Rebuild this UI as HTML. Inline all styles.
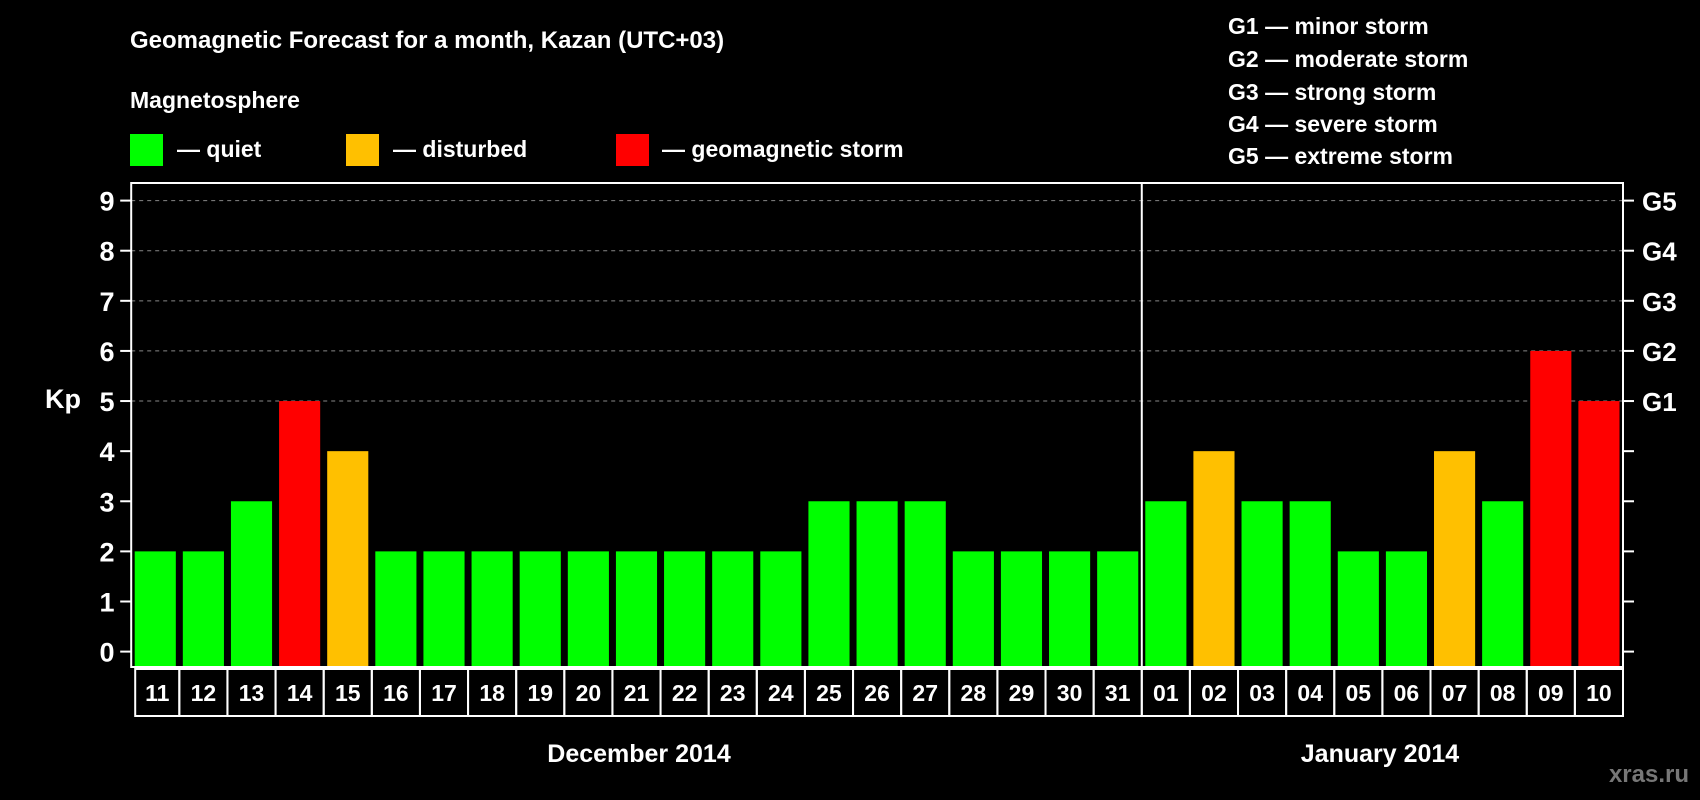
<!DOCTYPE html>
<html><head><meta charset="utf-8"><style>
html,body{margin:0;padding:0;background:#000;}
svg{display:block;font-family:"Liberation Sans",Arial,sans-serif;font-weight:bold;}
</style></head><body>
<svg id="chart" width="1700" height="800" viewBox="0 0 1700 800">
<rect width="1700" height="800" fill="#000"/>
<text x="130" y="48" fill="#fff" font-size="24">Geomagnetic Forecast for a month, Kazan (UTC+03)</text>
<text x="130" y="108" fill="#fff" font-size="23">Magnetosphere</text>
<g><rect x="130" y="134" width="33" height="32" fill="#00ff00"/><text x="177" y="157" fill="#fff" font-size="23">— quiet</text></g>
<g><rect x="346" y="134" width="33" height="32" fill="#ffc000"/><text x="393" y="157" fill="#fff" font-size="23">— disturbed</text></g>
<g><rect x="616" y="134" width="33" height="32" fill="#ff0000"/><text x="662" y="157" fill="#fff" font-size="23">— geomagnetic storm</text></g>
<g fill="#fff" font-size="23">
<text x="1228" y="34">G1 — minor storm</text>
<text x="1228" y="67">G2 — moderate storm</text>
<text x="1228" y="100">G3 — strong storm</text>
<text x="1228" y="132">G4 — severe storm</text>
<text x="1228" y="164">G5 — extreme storm</text>
</g>
<text x="63" y="408" fill="#fff" font-size="27" text-anchor="middle">Kp</text>
<g id="grid"></g><g id="bars"></g><g id="axes"></g><g id="dates"></g>
<text x="639" y="762" fill="#fff" font-size="25" text-anchor="middle">December 2014</text>
<text x="1380" y="762" fill="#fff" font-size="25" text-anchor="middle">January 2014</text>
<text x="1689" y="782" fill="#777" font-size="24" text-anchor="end">xras.ru</text>
</svg>
<script>
const days = ["11","12","13","14","15","16","17","18","19","20","21","22","23","24","25","26","27","28","29","30","31","01","02","03","04","05","06","07","08","09","10"];
const kpValues = [2,2,3,5,4,2,2,2,2,2,2,2,2,2,3,3,3,2,2,2,2,3,4,3,3,2,2,4,3,6,5];
const yTicks = [0,1,2,3,4,5,6,7,8,9];
const gLabels = ["","","","","","G1","G2","G3","G4","G5"];
const NS="http://www.w3.org/2000/svg";
const L=131.2,R=1623,T=183,B=667,y0=651.6,y9=200.6;
const slot=(R-L)/days.length;
const y=v=>y0-(y0-y9)*v/9;
const x=i=>L+i*slot;
function mk(t,a,p){const e=document.createElementNS(NS,t);for(const k in a)e.setAttribute(k,a[k]);p.appendChild(e);return e;}
const grid=document.getElementById('grid'),bars=document.getElementById('bars'),axes=document.getElementById('axes'),dates=document.getElementById('dates');
yTicks.forEach((v,i)=>{
  if(v>=5){const g=mk('line',{x1:L,x2:R,y1:y(v),y2:y(v),stroke:'#888','stroke-width':1,'stroke-dasharray':'4,4'},grid);
  
  }
  const tl=mk('line',{x1:L-11,x2:L,y1:y(v),y2:y(v),stroke:'#fff','stroke-width':2},axes);
  
  
  const tr=mk('line',{x1:R,x2:R+11,y1:y(v),y2:y(v),stroke:'#fff','stroke-width':2},axes);
  
  
  const t=mk('text',{x:107,y:y(v)+10,fill:'#fff','font-size':27,'text-anchor':'middle'},axes);
  t.textContent=v;
  
  
  if(gLabels[i]){const g=mk('text',{x:1642,y:y(v)+10,fill:'#fff','font-size':26},axes);
  g.textContent=gLabels[i];
  
  }
});
kpValues.forEach((v,i)=>{
  const c=v>=5?'#ff0000':(v>=4?'#ffc000':'#00ff00');
  const b=mk('rect',{x:x(i)+3.5,y:y(v),width:slot-7,height:B-y(v),fill:c},bars);
  
  
  const cell=mk('rect',{x:x(i)+(i==0?4:0),y:669,width:slot-(i==0?4:0),height:47,fill:'none',stroke:'#fff','stroke-width':2},dates);
  
  
  const t=mk('text',{x:x(i)+slot/2+(i==0?2:0),y:701,fill:'#fff','font-size':23,'text-anchor':'middle'},dates);
  t.textContent=days[i];
  
  
});
const fr=mk('rect',{x:L,y:T,width:R-L,height:B-T,fill:'none',stroke:'#fff','stroke-width':2},axes);


const dv=mk('line',{x1:x(21),x2:x(21),y1:T,y2:B,stroke:'#fff','stroke-width':2},axes);


</script>
</body></html>
